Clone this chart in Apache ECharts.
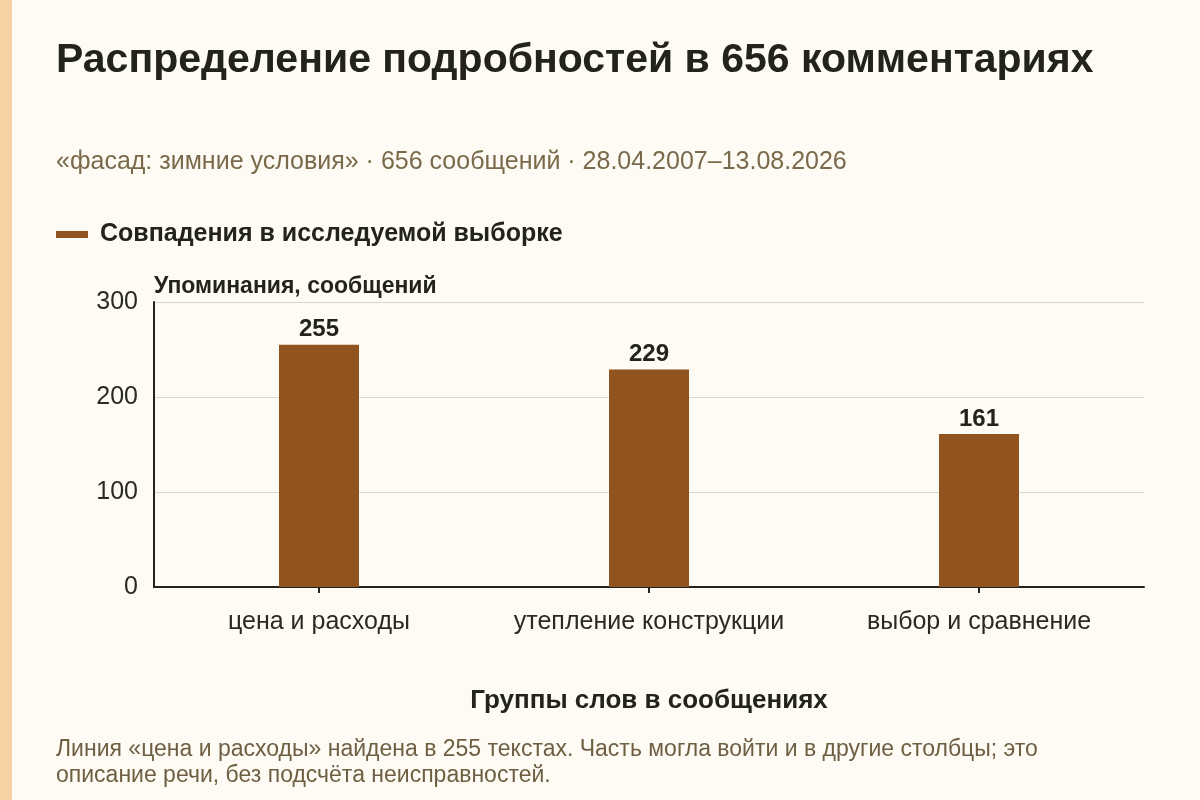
<!DOCTYPE html>
<html><head><meta charset="utf-8">
<script src="https://cdn.jsdelivr.net/npm/echarts@6/dist/echarts.min.js"></script>
<style>html,body{margin:0;padding:0;background:#fdfbf3}#c{width:1200px;height:800px}</style>
</head><body><div id="c"></div>
<script>
const categories = ['цена и расходы', 'утепление конструкции', 'выбор и сравнение'];
const seriesName = 'Совпадения в исследуемой выборке';
const values = [255, 229, 161];
const yTicks = { min: 0, max: 300, interval: 100 };

const FONT = '"Liberation Sans", Arial, sans-serif';
const chart = echarts.init(document.getElementById('c'), null, { renderer: 'canvas' });
chart.setOption({
  backgroundColor: '#fdfbf3',
  textStyle: { fontFamily: FONT },
  graphic: [{ type: 'rect', left: 0, top: 0, shape: { x: 0, y: 0, width: 12, height: 800 }, style: { fill: '#f6d3a5' }, silent: true }],
  title: [
    { text: 'Распределение подробностей в 656 комментариях', left: 56, top: 40, padding: 0,
      textStyle: { fontFamily: FONT, fontSize: 41, fontWeight: 'bold', color: '#23231d' } },
    { text: '«фасад: зимние условия» · 656 сообщений · 28.04.2007–13.08.2026', left: 56, top: 150, padding: 0,
      textStyle: { fontFamily: FONT, fontSize: 25, fontWeight: 'normal', color: '#7a6a4b' } },
    { text: 'Линия «цена и расходы» найдена в 255 текстах. Часть могла войти и в другие столбцы; это\nописание речи, без подсчёта неисправностей.', left: 56, top: 737, padding: 0,
      textStyle: { fontFamily: FONT, fontSize: 23, fontWeight: 'normal', color: '#6e5e42', lineHeight: 26 } }
  ],
  legend: {
    left: 56, top: 222, padding: 0, icon: 'rect', itemWidth: 32, itemHeight: 7, itemGap: 10,
    textStyle: { fontFamily: FONT, fontSize: 25, fontWeight: 'bold', color: '#23231d', padding: [0, 0, 0, 7] },
    data: [seriesName]
  },
  grid: { left: 154, right: 56, top: 302, bottom: 213, containLabel: false },
  xAxis: {
    type: 'category', data: categories,
    name: 'Группы слов в сообщениях', nameLocation: 'middle', nameGap: 101,
    nameTextStyle: { fontFamily: FONT, fontSize: 26, fontWeight: 'bold', color: '#23231d' },
    axisLine: { lineStyle: { color: '#23231d', width: 2 } },
    axisTick: { show: true, interval: 0, alignWithLabel: true, length: 6, lineStyle: { color: '#23231d', width: 2 } },
    axisLabel: { interval: 0, hideOverlap: false, fontFamily: FONT, fontSize: 25, color: '#2a2a24', margin: 23 }
  },
  yAxis: {
    type: 'value', min: yTicks.min, max: yTicks.max, interval: yTicks.interval,
    name: 'Упоминания, сообщений', nameLocation: 'end', nameGap: 4,
    nameTextStyle: { fontFamily: FONT, fontSize: 23, fontWeight: 'bold', color: '#23231d', align: 'left' },
    axisLine: { show: true, lineStyle: { color: '#23231d', width: 2 } },
    axisTick: { show: false },
    axisLabel: { fontFamily: FONT, fontSize: 25, color: '#2a2a24', margin: 16 },
    splitLine: { lineStyle: { color: '#d9d6cc', width: 1 } }
  },
  series: [{
    name: seriesName, type: 'bar', data: values, barWidth: 80,
    itemStyle: { color: '#92541f' },
    label: { show: true, position: 'top', distance: 3, fontFamily: FONT, fontSize: 24, fontWeight: 'bold', color: '#23231d' }
  }]
});
</script></body></html>
